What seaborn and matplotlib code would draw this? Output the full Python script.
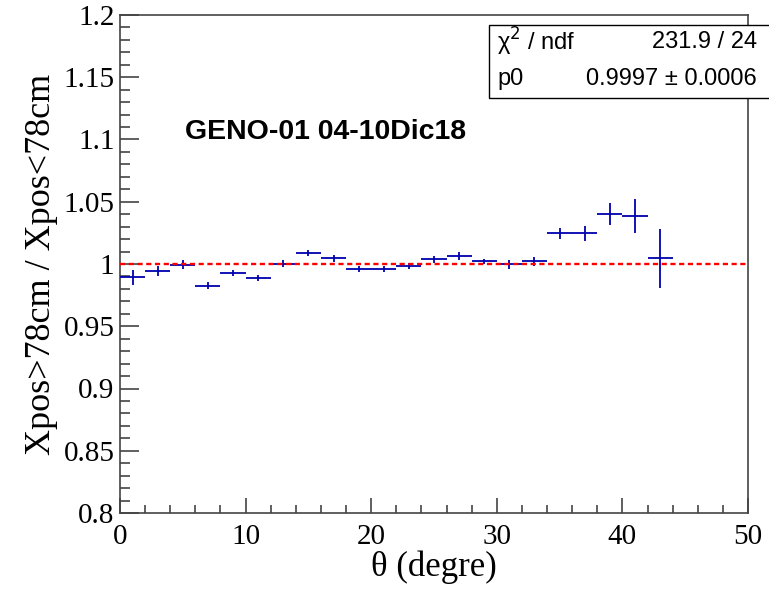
import numpy as np
import matplotlib
matplotlib.use("Agg")
import matplotlib.pyplot as plt
from matplotlib.patches import Rectangle
from matplotlib.ticker import MultipleLocator, FuncFormatter
import seaborn as sns

# ------------------------------
# DATA
# ------------------------------
theta = [1, 3, 5, 7, 9, 11, 13, 15, 17, 19, 21, 23, 25, 27, 29, 31, 33, 35, 37, 39, 41, 43]
bin_half = [1] * len(theta)
ratio = [0.9895, 0.9946, 0.9995, 0.9825, 0.9927, 0.9884, 1.0002, 1.0089, 1.0045, 0.9962, 0.9962,
         0.9986, 1.0037, 1.0064, 1.0021, 0.9997, 1.0021, 1.0247, 1.0247, 1.0400, 1.0384, 1.0045]
ratio_err = [0.0060, 0.0039, 0.0034, 0.0027, 0.0024, 0.0024, 0.0027, 0.0024, 0.0025, 0.0024, 0.0024,
             0.0024, 0.0027, 0.0030, 0.0023, 0.0036, 0.0038, 0.0044, 0.0059, 0.0087, 0.0137, 0.0237]

p0 = 0.9997
p0_err = 0.0006
chi2 = 231.9
ndf = 24

# ------------------------------
# STYLE
# ------------------------------
sns.set_style("ticks")
plt.rcParams['font.family'] = ['Liberation Serif', 'DejaVu Serif']
plt.rcParams['text.color'] = 'black'
plt.rcParams['axes.labelcolor'] = 'black'
sans = ['Liberation Sans', 'DejaVu Sans']

fig = plt.figure(figsize=(7.69, 5.93), dpi=100)
ax = fig.add_axes([120 / 769, 1 - 513 / 593, 628 / 769, 498 / 593])

ax.errorbar(theta, ratio, xerr=bin_half, yerr=ratio_err, fmt='none',
            ecolor='#0000b0', elinewidth=1.3, capsize=0, zorder=3)
ax.axhline(p0, color='#ff0000', linestyle=(0, (2.2, 1.5)), linewidth=1.7, zorder=4)

ax.set_xlim(0, 50)
ax.set_ylim(0.8, 1.2)
ax.xaxis.set_major_locator(MultipleLocator(10))
ax.xaxis.set_minor_locator(MultipleLocator(2))
ax.yaxis.set_major_locator(MultipleLocator(0.05))
ax.yaxis.set_minor_locator(MultipleLocator(0.01))
ax.yaxis.set_major_formatter(FuncFormatter(lambda v, p: f"{v:.2f}".rstrip('0').rstrip('.')))

for s in ax.spines.values():
    s.set_visible(True)
    s.set_color('#444444')
    s.set_linewidth(1.2)

ax.tick_params(axis='both', which='both', direction='in', colors='#444444',
               labelcolor='black', labelsize=21, width=1.2,
               bottom=True, left=True, top=False, right=False)
ax.tick_params(axis='y', which='major', length=13.5, pad=4)
ax.tick_params(axis='y', which='minor', length=7)
ax.tick_params(axis='x', which='major', length=11, pad=8)
ax.tick_params(axis='x', which='minor', length=5.5)

ax.set_xlabel('θ (degre)', fontsize=25, labelpad=0)
ax.set_ylabel('Xpos>78cm / Xpos<78cm', fontsize=26, labelpad=4)

ax.text(0.104, 0.765, 'GENO-01 04-10Dic18', transform=ax.transAxes,
        fontsize=20.5, fontweight='bold', family=sans, color='black',
        ha='left', va='center')

# stats box
box = Rectangle(((489 - 120) / 628, (513 - 98) / 498), 0.5, 73 / 498,
                transform=ax.transAxes, facecolor='white', edgecolor='black',
                linewidth=1.0, clip_on=False, zorder=10)
ax.add_patch(box)
ax.text((497 - 120) / 628, (513 - 42) / 498, 'χ$^{2}$ / ndf', transform=ax.transAxes,
        fontsize=17, family=sans, ha='left', va='center', zorder=11)
ax.text((757 - 120) / 628, (513 - 42) / 498, f'{chi2:.1f} / {ndf}', transform=ax.transAxes,
        fontsize=17, family=sans, ha='right', va='center', zorder=11)
ax.text((497 - 120) / 628, (513 - 79) / 498, 'p0', transform=ax.transAxes,
        fontsize=17, family=sans, ha='left', va='center', zorder=11)
ax.text((757 - 120) / 628, (513 - 79) / 498, f'{p0:.4f} ± {p0_err:.4f}', transform=ax.transAxes,
        fontsize=17, family=sans, ha='right', va='center', zorder=11)

fig.savefig("out.png", dpi=100)
plt.close(fig)
